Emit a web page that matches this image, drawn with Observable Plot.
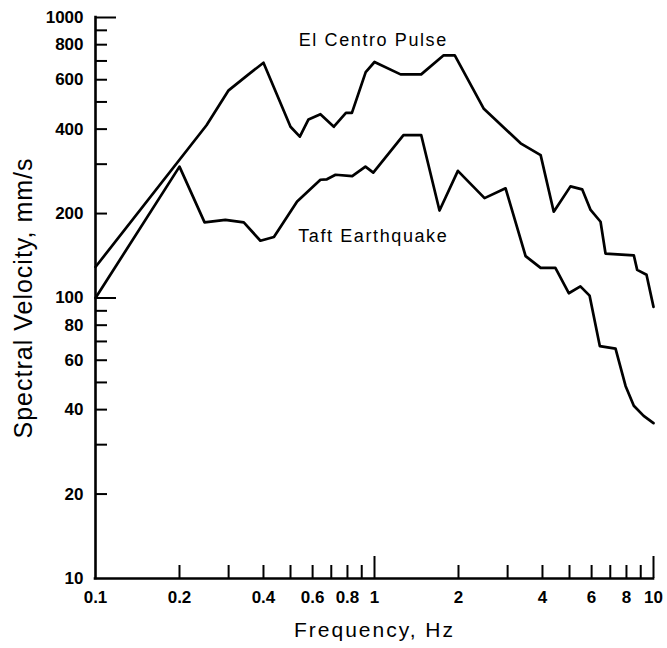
<!DOCTYPE html>
<html>
<head>
<meta charset="utf-8">
<script src="https://cdn.jsdelivr.net/npm/d3@7"></script>
<script src="https://cdn.jsdelivr.net/npm/@observablehq/plot@0.6"></script>
<style>
  html, body { margin: 0; padding: 0; background: #fff; }
  #chart { width: 667px; height: 648px; }
</style>
</head>
<body>
<div id="chart"></div>
<script>
// El Centro Pulse
const elCentroFreq = [0.1, 0.25, 0.3, 0.35, 0.4, 0.5, 0.54, 0.58, 0.64, 0.715, 0.79, 0.83, 0.93, 1.0, 1.24, 1.47, 1.77, 1.94, 2.46, 3.34, 3.94, 4.39, 5.04, 5.55, 5.95, 6.46, 6.73, 8.5, 8.74, 9.44, 10];
const elCentroVel  = [129, 413, 550, 622, 690, 408, 376, 433, 452, 408, 457, 457, 639, 694, 627, 627, 733, 733, 474, 356, 323, 203, 250, 244, 206, 187, 144, 142, 126, 121, 93];

// Taft Earthquake
const taftFreq = [0.1, 0.2, 0.246, 0.292, 0.34, 0.39, 0.436, 0.528, 0.64, 0.675, 0.725, 0.832, 0.928, 0.99, 1.27, 1.47, 1.71, 1.99, 2.48, 2.95, 3.48, 3.94, 4.45, 4.97, 5.47, 5.9, 6.42, 7.31, 7.94, 8.5, 9.22, 10];
const taftVel  = [100, 294, 186, 190, 186, 160, 165, 221, 264, 265, 275, 272, 294, 280, 381, 381, 205, 284, 227, 246, 141, 128, 128, 104, 110, 102, 67.4, 66, 48.6, 41.3, 38, 35.8];

// Axis ticks and labels
const xLabels = [0.1, 0.2, 0.4, 0.6, 0.8, 1, 2, 4, 6, 8, 10];
const yLabels = [10, 20, 40, 60, 80, 100, 200, 400, 600, 800, 1000];
const xMinorTicks = [0.2, 0.3, 0.4, 0.5, 0.6, 0.7, 0.8, 0.9, 2, 3, 4, 5, 6, 7, 8, 9];
const xMajorTicks = [1, 10];
const yMinorTicks = [20, 30, 40, 50, 60, 70, 80, 90, 200, 300, 400, 500, 600, 700, 800, 900];
const yMajorTicks = [100, 1000];

// Series labels (data coordinates)
const seriesNames = ["El Centro Pulse", "Taft Earthquake"];
const seriesLabelFreq = [0.99, 0.99];
const seriesLabelVel = [830, 166];

const xTitle = "Frequency, Hz";
const yTitle = "Spectral Velocity, mm/s";

const elCentro = elCentroFreq.map((f, i) => ({f, v: elCentroVel[i]}));
const taft = taftFreq.map((f, i) => ({f, v: taftVel[i]}));
const seriesLabels = seriesNames.map((name, i) => ({name, f: seriesLabelFreq[i], v: seriesLabelVel[i]}));

const W = 667, H = 648;
const mL = 95, mR = 14, mT = 17, mB = 70;
const frameW = W - mL - mR, frameH = H - mT - mB;

const chart = Plot.plot({
  width: W,
  height: H,
  marginLeft: mL,
  marginRight: mR,
  marginTop: mT,
  marginBottom: mB,
  style: {fontFamily: "'Liberation Sans', Arial, Helvetica, sans-serif", background: "#fff", color: "#000"},
  x: {type: "log", domain: [0.1, 10], axis: null},
  y: {type: "log", domain: [10, 1000], axis: null},
  marks: [
    // ticks (inward)
    Plot.tickY(yMinorTicks, {y: d => d, insetRight: frameW - 12, stroke: "#000", strokeWidth: 2}),
    Plot.tickY(yMajorTicks, {y: d => d, insetRight: frameW - 21, stroke: "#000", strokeWidth: 2}),
    Plot.tickX(xMinorTicks, {x: d => d, insetTop: frameH - 13, stroke: "#000", strokeWidth: 2}),
    Plot.tickX(xMajorTicks, {x: d => d, insetTop: frameH - 22, stroke: "#000", strokeWidth: 2}),
    // axis lines
    Plot.ruleX([0.1], {stroke: "#000", strokeWidth: 2.6, strokeLinecap: "square"}),
    Plot.ruleY([10], {stroke: "#000", strokeWidth: 2.6, strokeLinecap: "square"}),
    // tick labels
    Plot.text(yLabels, {y: d => d, text: d => String(d), frameAnchor: "left", textAnchor: "end", lineAnchor: "middle", dx: -12, fontSize: 17, fontWeight: "bold", fill: "#000"}),
    Plot.text(xLabels, {x: d => d, text: d => String(d), frameAnchor: "bottom", textAnchor: "middle", lineAnchor: "top", dy: 12, fontSize: 17, fontWeight: "bold", fill: "#000"}),
    // data lines
    Plot.line(elCentro, {x: "f", y: "v", stroke: "#000", strokeWidth: 2.7, strokeLinejoin: "round"}),
    Plot.line(taft, {x: "f", y: "v", stroke: "#000", strokeWidth: 2.7, strokeLinejoin: "round"}),
    // series labels
    Plot.text(seriesLabels, {x: "f", y: "v", text: "name", fontSize: 18, fill: "#000"}),
    // axis titles
    Plot.text([xTitle], {text: d => d, frameAnchor: "bottom", textAnchor: "middle", lineAnchor: "middle", dy: 52, fontSize: 21, fill: "#000"}),
    Plot.text([yTitle], {text: d => d, frameAnchor: "left", textAnchor: "middle", lineAnchor: "middle", rotate: -90, dx: -72, fontSize: 25, fill: "#000"})
  ]
});

// letter spacing for the wide original lettering
chart.querySelectorAll("text").forEach(t => {
  const s = t.textContent;
  if (s === xTitle) t.setAttribute("letter-spacing", "2");
  else if (s === yTitle) t.setAttribute("letter-spacing", "1");
  else if (seriesNames.includes(s)) t.setAttribute("letter-spacing", "1.6");
});

document.getElementById("chart").appendChild(chart);
</script>
</body>
</html>
